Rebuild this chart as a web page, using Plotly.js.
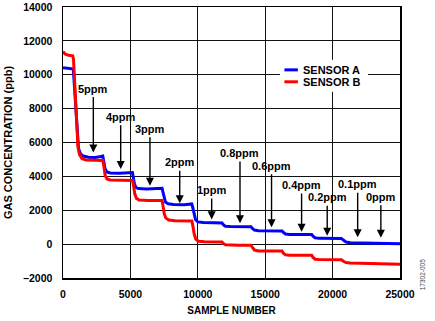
<!DOCTYPE html>
<html>
<head>
<meta charset="utf-8">
<script src="https://cdn.plot.ly/plotly-3.0.1.min.js"></script>
<style>html,body{margin:0;padding:0;background:#fff;}#chart{width:435px;height:321px;}</style>
</head>
<body>
<div id="chart"></div>
<script>
// Sensor A (blue) samples
var sampleA = [0, 300, 700, 770, 830, 900, 980, 1060, 1150, 1300, 1500, 1900, 2400, 2800, 2950, 3030, 3120, 3250, 3500, 4200, 4900, 5150, 5220, 5300, 5420, 5600, 6200, 7000, 7350, 7420, 7500, 7600, 7800, 8200, 9000, 9550, 9630, 9720, 9830, 10000, 10400, 11200, 11800, 11900, 12050, 12400, 13300, 13950, 14050, 14200, 14500, 15500, 16250, 16350, 16500, 16800, 17800, 18450, 18550, 18700, 19000, 20000, 20650, 20800, 21000, 21300, 22500, 25000];
var concA = [10420, 10390, 10350, 10250, 9500, 8300, 7100, 6200, 5650, 5330, 5200, 5130, 5120, 5170, 5200, 4850, 4450, 4260, 4200, 4190, 4210, 4230, 3900, 3550, 3340, 3280, 3260, 3270, 3300, 3050, 2700, 2480, 2380, 2340, 2330, 2370, 2150, 1750, 1450, 1310, 1270, 1260, 1250, 1140, 1060, 1040, 1030, 1020, 930, 830, 790, 780, 780, 690, 600, 575, 570, 565, 470, 370, 340, 330, 335, 240, 120, 80, 60, 20];

// Sensor B (red) samples
var sampleB = [0, 150, 400, 720, 780, 830, 890, 960, 1030, 1110, 1220, 1400, 1700, 2200, 2700, 2950, 3040, 3130, 3260, 3500, 4300, 5000, 5170, 5250, 5330, 5450, 5650, 6300, 7000, 7350, 7430, 7510, 7620, 7850, 8300, 9000, 9560, 9640, 9730, 9850, 10050, 10500, 11800, 11900, 12050, 13000, 13950, 14050, 14200, 14500, 16250, 16350, 16500, 16800, 18450, 18550, 18700, 19000, 20650, 20800, 21000, 21300, 23000, 25000];
var concB = [11370, 11230, 11150, 11120, 10900, 10000, 8800, 7500, 6500, 5750, 5300, 5060, 4970, 4940, 4930, 4940, 4550, 4050, 3850, 3790, 3770, 3770, 3760, 3350, 2950, 2700, 2600, 2570, 2560, 2570, 2200, 1800, 1550, 1420, 1380, 1360, 1370, 1050, 600, 300, 170, 140, 130, 30, -40, -60, -70, -200, -350, -400, -410, -540, -630, -650, -660, -790, -890, -910, -920, -1010, -1090, -1110, -1150, -1190];

var seriesNames = ['SENSOR A', 'SENSOR B'];
var seriesColors = ['#0000ff', '#ff0000'];

// Step labels: text, arrow tip (sample, ppb), label position (sample, ppb)
var stepLabels = ['5ppm', '4ppm', '3ppm', '2ppm', '1ppm', '0.8ppm', '0.6ppm', '0.4ppm', '0.2ppm', '0.1ppm', '0ppm'];
var tipX  = [2250, 4280, 6450, 8660, 11030, 13130, 15470, 17700, 19600, 21860, 23580];
var tipY  = [5410, 4430, 3440, 2410, 1460, 1230, 990, 730, 490, 400, 370];
var textX = [2250, 4280, 6450, 8660, 11030, 13130, 15470, 17700, 19600, 21860, 23580];
var textY = [9185, 7526, 6815, 4840, 3200, 5375, 4622, 3496, 2767, 3538, 2803];

var xTicks = [0, 5000, 10000, 15000, 20000, 25000];
var yTicks = [-2000, 0, 2000, 4000, 6000, 8000, 10000, 12000, 14000];

var FONT = 'Liberation Sans, Arial, sans-serif';

var traces = [
  {x: sampleA, y: concA, type: 'scatter', mode: 'lines', name: seriesNames[0],
   line: {color: seriesColors[0], width: 3}, showlegend: false},
  {x: sampleB, y: concB, type: 'scatter', mode: 'lines', name: seriesNames[1],
   line: {color: seriesColors[1], width: 3}, showlegend: false}
];

var annotations = stepLabels.map(function (t, i) {
  return {
    x: tipX[i], y: tipY[i], xref: 'x', yref: 'y',
    ax: textX[i], ay: textY[i], axref: 'x', ayref: 'y',
    text: t, showarrow: true, arrowhead: 2, arrowsize: 1.15, arrowwidth: 1.4,
    arrowcolor: '#000', standoff: 0, borderpad: 2,
    font: {family: FONT, size: 11, color: '#000', weight: 'bold'}
  };
});
annotations.push({
  xref: 'paper', yref: 'paper', x: 1.083, y: -0.053, showarrow: false,
  text: '17302-005', textangle: -90,
  font: {family: FONT, size: 6.5, color: '#444'}
});

// Legend (drawn as a compact key)
var legY = [0.768, 0.724];
var shapes = [{
  type: 'rect', xref: 'paper', yref: 'paper', x0: 0.644, x1: 0.905, y0: 0.687, y1: 0.805,
  fillcolor: '#fff', line: {width: 0}, layer: 'above'
}];
seriesNames.forEach(function (n, i) {
  shapes.push({type: 'line', xref: 'paper', yref: 'paper', x0: 0.657, x1: 0.697,
               y0: legY[i], y1: legY[i], line: {color: seriesColors[i], width: 3}, layer: 'above'});
  annotations.push({xref: 'paper', yref: 'paper', x: 0.707, y: legY[i], xanchor: 'left',
                    yanchor: 'middle', showarrow: false, text: n,
                    font: {family: FONT, size: 11, color: '#000', weight: 'bold'}});
});

var layout = {
  width: 435, height: 321,
  margin: {l: 63, r: 35, t: 7, b: 43, pad: 0},
  paper_bgcolor: '#fff', plot_bgcolor: '#fff',
  showlegend: false,
  xaxis: {
    range: [0, 25000], tickvals: xTicks, ticktext: xTicks.map(String),
    showgrid: true, gridcolor: '#111', gridwidth: 1,
    zeroline: false, showline: true, linecolor: '#000', linewidth: 1.5, mirror: true,
    ticks: '', ticklabelstandoff: 6,
    tickfont: {family: FONT, size: 10.5, color: '#000', weight: 'bold'},
    title: {text: 'SAMPLE NUMBER', standoff: 8,
            font: {family: FONT, size: 10, color: '#000', weight: 'bold'}}
  },
  yaxis: {
    range: [-2000, 14000], tickvals: yTicks,
    ticktext: yTicks.map(function (v) { return v < 0 ? '\u2013' + Math.abs(v) : String(v); }),
    showgrid: true, gridcolor: '#111', gridwidth: 1,
    zeroline: false, showline: true, linecolor: '#000', linewidth: 1.5, mirror: true,
    ticks: '', ticklabelstandoff: 7,
    tickfont: {family: FONT, size: 10.5, color: '#000', weight: 'bold'},
    title: {text: 'GAS CONCENTRATION (ppb)', standoff: 8,
            font: {family: FONT, size: 11, color: '#000', weight: 'bold'}}
  },
  shapes: shapes,
  annotations: annotations
};

Plotly.newPlot('chart', traces, layout, {displayModeBar: false, staticPlot: true});
</script>
</body>
</html>
